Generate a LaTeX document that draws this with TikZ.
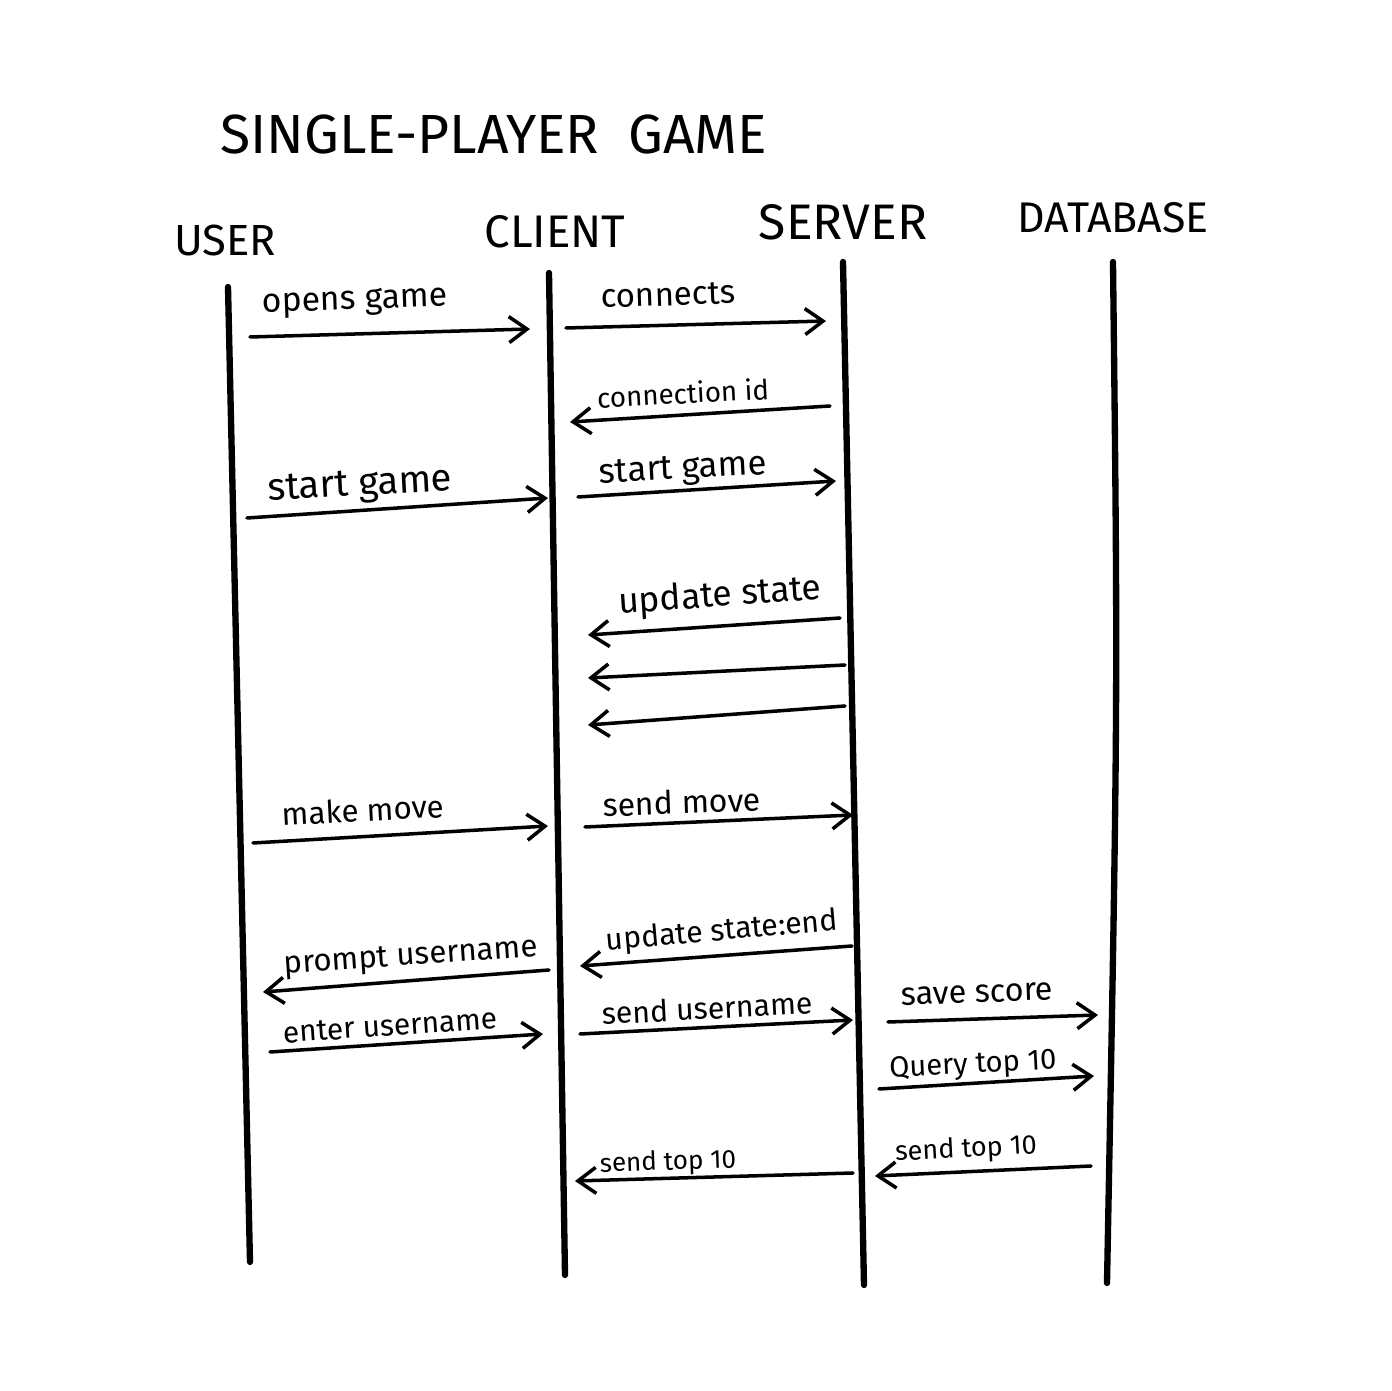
\documentclass[tikz,border=0pt]{standalone}
\usepackage{fontspec}
\setmainfont{Fira Sans}
\usetikzlibrary{arrows.meta}
\tikzset{
  life/.style={line width=1.8pt, line cap=round},
  msg/.style={line width=1pt, line cap=round, -{Straight Barb[length=1.8mm,width=2.6mm,line width=1pt]}},
  head/.style={font=\fontsize{#1}{#1}\selectfont, inner sep=0pt},
  ttl/.style={font=\fontsize{15.7}{18}\selectfont, inner sep=0pt},
  lbl/.style={font=\fontsize{#1}{#1}\selectfont, inner sep=0pt},
  lbl/.default=10
}
\begin{document}
\begin{tikzpicture}[x=0.1mm,y=-0.1mm]
\useasboundingbox (0,0) rectangle (1392,1391);
\fill[white] (0,0) rectangle (1392,1391);
% title and headers
\node[ttl] (title) at (494,135) {SINGLE-PLAYER\ \ GAME};
\node[head=12.4] (huser) at (225,240) {USER};
\node[head=13] (hclient) at (555,232) {CLIENT};
\node[head=14.2] (hserver) at (843,222) {SERVER};
\node[head=12.2] (hdb) at (1113,218) {DATABASE};
% lifelines
\coordinate (ut) at (228,287); \coordinate (ub) at (250,1262);
\coordinate (ct) at (549,273); \coordinate (cb) at (565,1275);
\coordinate (st) at (843,262); \coordinate (sb) at (864,1285);
\coordinate (dt) at (1113,262); \coordinate (db) at (1107,1283);
\draw[life] (ut) -- (ub);
\draw[life] (ct) -- (cb);
\draw[life] (st) -- (sb);
\draw[life] (dt) .. controls (1118,700) .. (db);
% message end points
\coordinate (a1) at (250,337);  \coordinate (b1) at (530,329);
\coordinate (a2) at (566,328);  \coordinate (b2) at (826,321);
\coordinate (a3) at (830,406);  \coordinate (b3) at (570,422);
\coordinate (a4) at (247,518);  \coordinate (b4) at (548,498);
\coordinate (a5) at (578,497);  \coordinate (b5) at (836,481);
\coordinate (a6) at (840,618);  \coordinate (b6) at (588,635);
\coordinate (a7) at (845,665);  \coordinate (b7) at (588,678);
\coordinate (a8) at (845,706);  \coordinate (b8) at (588,725);
\coordinate (a9) at (253,843);  \coordinate (b9) at (548,826);
\coordinate (a10) at (585,827); \coordinate (b10) at (853,815);
\coordinate (a11) at (852,946); \coordinate (b11) at (580,966);
\coordinate (a12) at (549,970); \coordinate (b12) at (263,992);
\coordinate (a13) at (270,1052); \coordinate (b13) at (543,1034);
\coordinate (a14) at (580,1034); \coordinate (b14) at (853,1020);
\coordinate (a15) at (888,1022); \coordinate (b15) at (1098,1015);
\coordinate (a16) at (879,1089); \coordinate (b16) at (1094,1076);
\coordinate (a17) at (1091,1166); \coordinate (b17) at (875,1176);
\coordinate (a18) at (853,1173); \coordinate (b18) at (575,1181);
\foreach \i in {1,...,18} {\draw[msg] (a\i) -- (b\i);}
% labels
\node[lbl=9.6, rotate=2] (l1) at (355,303) {opens game};
\node[lbl=9.4, rotate=2] (l2) at (668,295) {connects};
\node[lbl=7.9, rotate=3] (l3) at (683,393) {connection id};
\node[lbl=10.9, rotate=3] (l4) at (360,487) {start game};
\node[lbl=9.9, rotate=3] (l5) at (683,471) {start game};
\node[lbl=10.1, rotate=4] (l6) at (720,597) {update state};
\node[lbl=8.9, rotate=3] (l9) at (363,810) {make move};
\node[lbl=9.1, rotate=2] (l10) at (682,802) {send move};
\node[lbl=8.6, rotate=5] (l11) at (722,932) {update state:end};
\node[lbl=8.9, rotate=4] (l12) at (411,958) {prompt username};
\node[lbl=8.5, rotate=4] (l13) at (390,1026) {enter username};
\node[lbl=8.6, rotate=3] (l14) at (707,1008) {send username};
\node[lbl=9.2, rotate=2] (l15) at (977,994) {save score};
\node[lbl=8.3, rotate=3] (l16) at (973,1066) {Query top 10};
\node[lbl=7.7, rotate=3] (l17) at (966,1150) {send top 10};
\node[lbl=7.4, rotate=2] (l18) at (668,1163) {send top 10};
\end{tikzpicture}
\end{document}
